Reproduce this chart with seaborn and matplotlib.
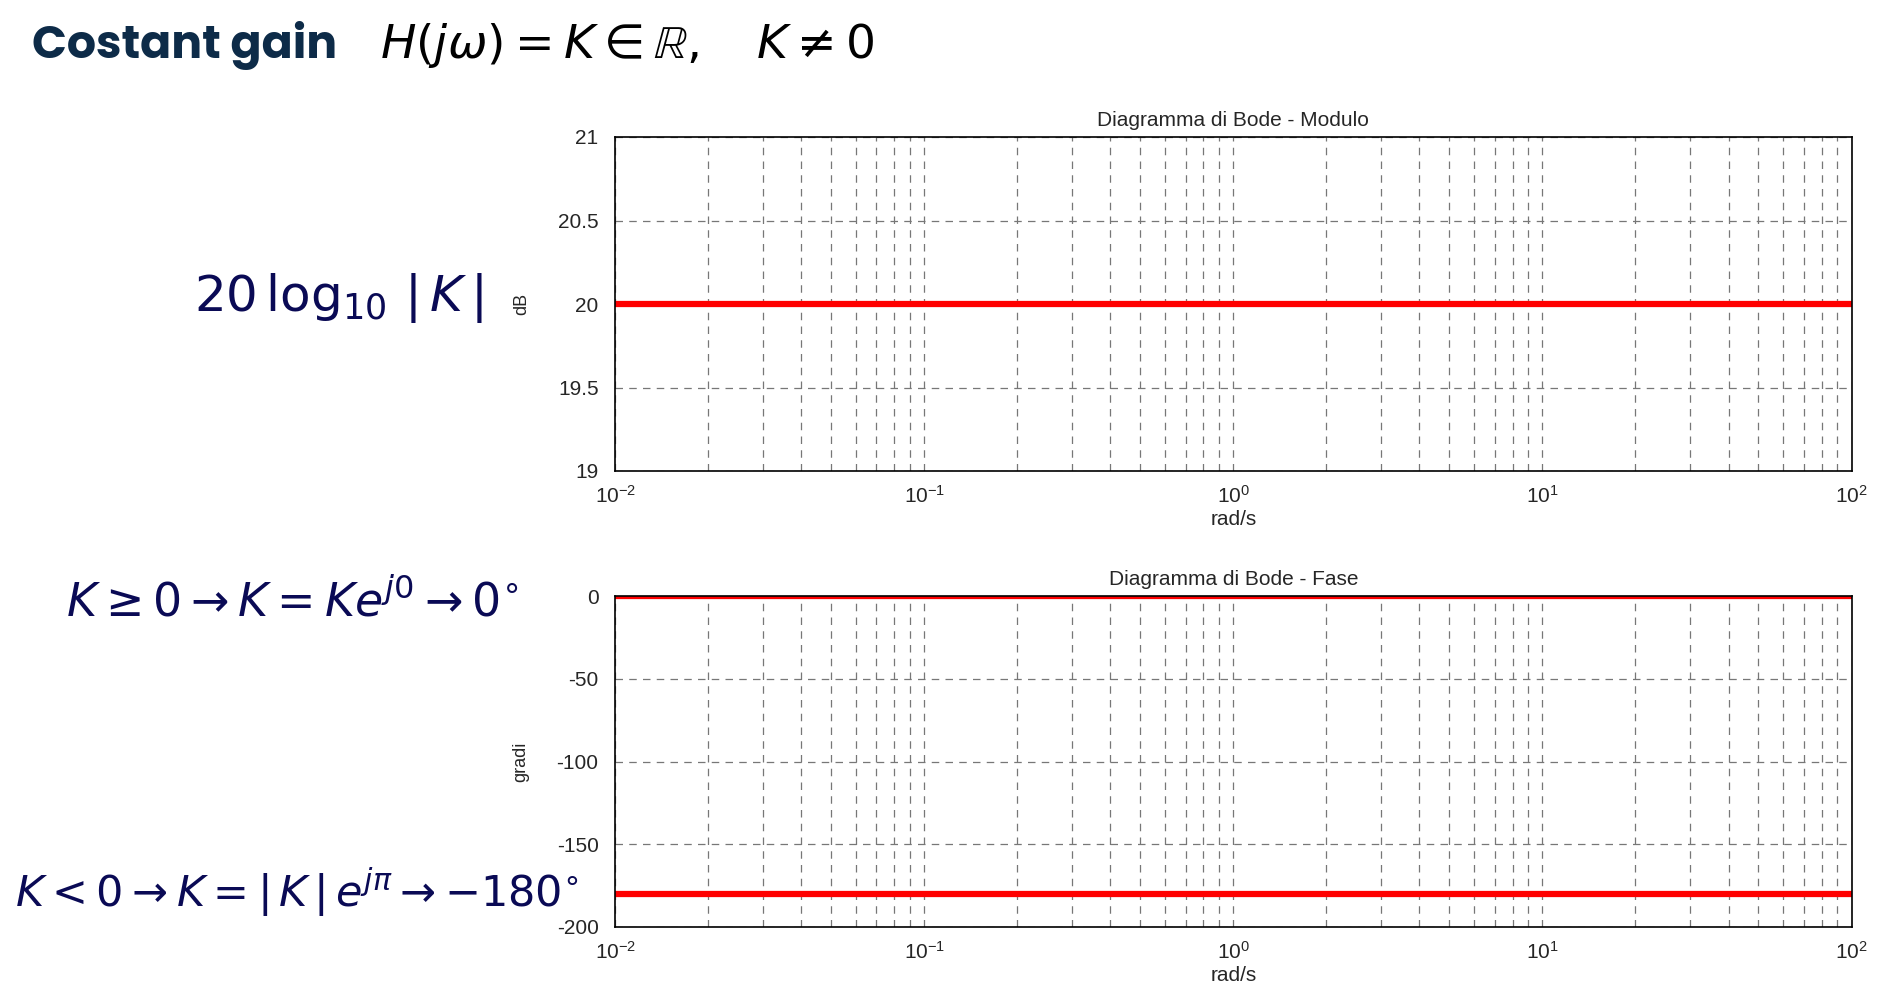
import numpy as np
import pandas as pd
import seaborn as sns
import matplotlib.pyplot as plt
from matplotlib.ticker import LogLocator, NullFormatter

freq = [0.01, 0.1, 1, 10, 100]
modulo_db = [20, 20, 20, 20, 20]
fase_pos = [0, 0, 0, 0, 0]
fase_neg = [-180, -180, -180, -180, -180]

sns.set_theme(style="white")
plt.rcParams['font.family'] = ['Liberation Sans', 'DejaVu Sans']
plt.rcParams['mathtext.fontset'] = 'dejavusans'

fig = plt.figure(figsize=(18.99, 10), dpi=100)
ax1 = fig.add_axes([0.324, 0.529, 0.651, 0.334])
ax2 = fig.add_axes([0.324, 0.073, 0.651, 0.331])

df = pd.DataFrame({"w": freq, "mod": modulo_db, "fp": fase_pos, "fn": fase_neg})
sns.lineplot(data=df, x="w", y="mod", ax=ax1, color="#ff0000", linewidth=4.5)
sns.lineplot(data=df, x="w", y="fp", ax=ax2, color="#ff0000", linewidth=4.5)
sns.lineplot(data=df, x="w", y="fn", ax=ax2, color="#ff0000", linewidth=4.5)


def style(ax, title, ylabel, ylim, yticks, yticklabels):
    ax.set_xscale("log")
    ax.set_xlim(0.01, 100)
    ax.set_ylim(*ylim)
    ax.set_yticks(yticks)
    ax.set_yticklabels(yticklabels)
    ax.xaxis.set_minor_locator(LogLocator(base=10, subs=np.arange(2, 10)))
    ax.xaxis.set_minor_formatter(NullFormatter())
    ax.grid(True, which="both", axis="x", linestyle=(0, (6, 5)), color="#777777", linewidth=0.9)
    ax.grid(True, which="major", axis="y", linestyle=(0, (6, 5)), color="#777777", linewidth=0.9)
    for s in ax.spines.values():
        s.set_color("black")
        s.set_linewidth(1.2)
    ax.tick_params(axis="both", which="major", labelsize=15, direction="in", length=6, color="black")
    ax.tick_params(axis="y", which="major", pad=12)
    ax.tick_params(axis="x", which="major", pad=10)
    ax.tick_params(axis="x", which="minor", direction="in", length=3)
    ax.set_title(title, fontsize=15, pad=8)
    ax.set_xlabel("rad/s", fontsize=15, labelpad=2)
    ax.set_ylabel(ylabel, fontsize=13, labelpad=20)


style(ax1, "Diagramma di Bode - Modulo", "dB", (19, 21), [19, 19.5, 20, 20.5, 21],
      ["19", "19.5", "20", "20.5", "21"])
style(ax2, "Diagramma di Bode - Fase", "gradi", (-200, 0), [-200, -150, -100, -50, 0],
      ["-200", "-150", "-100", "-50", "0"])

fig.text(0.017, 0.955, "Costant gain", fontsize=33, fontweight="bold", color="#0d2b48",
         va="center", family=["Poppins", "Lato", "DejaVu Sans"])
fig.text(0.200, 0.955, r"$H(j\omega) = K \in \mathbb{R},\quad K \neq 0$", fontsize=34,
         color="black", va="center")
navy = "#0a0a55"
fig.text(0.178, 0.702, r"$20\,\log_{10}\,|\,K\,|$", fontsize=36, color=navy, ha="center", va="center")
fig.text(0.035, 0.398, r"$K \geq 0 \rightarrow K = K e^{j0} \rightarrow 0^{\circ}$", fontsize=33,
         color=navy, va="center")
fig.text(0.008, 0.108, r"$K < 0 \rightarrow K = |\,K\,|\, e^{j\pi} \rightarrow {-}180^{\circ}$", fontsize=31,
         color=navy, va="center")

fig.savefig("out.png", dpi=100)
